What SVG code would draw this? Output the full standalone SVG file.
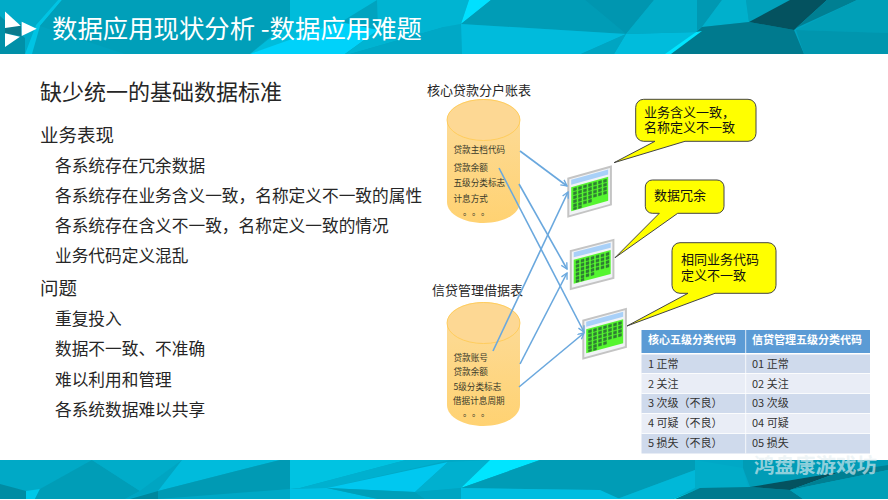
<svg xmlns="http://www.w3.org/2000/svg" width="888" height="500" viewBox="0 0 888 500">
<style>
text{font-family:"Noto Sans CJK SC","Liberation Sans",sans-serif;fill:#262626}
.h{font-size:18.5px}.s{font-size:16.7px}.l{font-size:13px}.c{font-size:8.6px;fill:#3a3a2a}
.b{font-size:13px;fill:#111}
.th{font-size:11px;font-weight:700;fill:#fff}.td{font-size:11px;fill:#333}
.conn{fill:none;stroke:#6aa8de;stroke-width:1.6;marker-end:url(#arr)}
.call{fill:#ffff00;stroke:#444;stroke-width:1}
</style>
<defs>
<linearGradient id="cy" x1="0" y1="0" x2="0" y2="1"><stop offset="0" stop-color="#fcdc9c"/><stop offset="1" stop-color="#ffd272"/></linearGradient>
<marker id="arr" viewBox="0 0 10 10" refX="9" refY="5" markerWidth="7.5" markerHeight="7.5" orient="auto" markerUnits="userSpaceOnUse"><path d="M1 0.8L9 5L1 9.2" fill="none" stroke="#6aa8de" stroke-width="1.8"/></marker>
<g id="cyl">
<path d="M0 21C0 9 16.500 0 36.500 0S73 9 73 21V103C73 115 56.500 124 36.500 124S0 115 0 103Z" fill="url(#cy)"/>
<ellipse cx="36.500" cy="21" rx="36.500" ry="20.500" fill="#fdd894" stroke="#ffc94f" stroke-width="0.8"/>
</g>
<g id="tbl">
<rect x="0.800" y="0.800" width="42.600" height="38" fill="#f1f3f6" stroke="#c4c4c4" stroke-width="2"/>
<rect x="3.700" y="2.800" width="37" height="5" fill="#a8d0f8"/>
<rect x="3.700" y="10.200" width="37" height="24" fill="#55f52f"/>
<path d="M6 12h3v2.600h-3zM11 12h3v2.600h-3zM16 12h3v2.600h-3zM21 12h3v2.600h-3zM26 12h3v2.600h-3zM31 12h3v2.600h-3zM36 12h3v2.600h-3zM6 16h3v2.600h-3zM11 16h3v2.600h-3zM16 16h3v2.600h-3zM21 16h3v2.600h-3zM26 16h3v2.600h-3zM31 16h3v2.600h-3zM36 16h3v2.600h-3zM6 20h3v2.600h-3zM11 20h3v2.600h-3zM16 20h3v2.600h-3zM21 20h3v2.600h-3zM26 20h3v2.600h-3zM31 20h3v2.600h-3zM36 20h3v2.600h-3zM6 24h3v2.600h-3zM11 24h3v2.600h-3zM16 24h3v2.600h-3zM21 24h3v2.600h-3zM26 24h3v2.600h-3zM31 24h3v2.600h-3zM36 24h3v2.600h-3zM6 28h3v2.600h-3zM11 28h3v2.600h-3zM16 28h3v2.600h-3zM21 28h3v2.600h-3zM6 31.500h3v2h-3zM11 31.500h3v2h-3z" fill="#2f7d35" stroke="#2f7d35" stroke-width="0.4"/>
</g>
</defs>
<rect width="888" height="500" fill="#fff"/>
<g id="header">
<rect width="888" height="54" fill="#00a3bf"/>
<polygon points="0,0 58,0 36,25 25,54 0,54" fill="#00abc8"/>
<polygon points="0,16 25,38 25,54 0,54" fill="#0090a8"/>
<polygon points="58,0 62,0 40,26 32,54 25,54 36,25" fill="#00c4e4"/>
<polygon points="62,0 290,0 290,18 250,54 130,54 125,54 40,26" fill="#009fb9"/>
<polygon points="290,0 377,0 333,27 250,54 290,22" fill="#00bcdb"/>
<polygon points="340,22 250,54 345,54 378,30" fill="#00d2fa"/>
<polygon points="377,0 444,0 444,27 350,54 345,54 378,30" fill="#00b4d2"/>
<polygon points="350,54 444,27 461,24 462,54" fill="#00a8c6"/>
<polygon points="444,0 469,0 461,24 444,27" fill="#00b4d2"/>
<polygon points="469,0 491,0 461,24" fill="#00e0ff"/>
<polygon points="491,0 585,0 626,34 461,24" fill="#009cb6"/>
<polygon points="585,0 654,0 626,34" fill="#0096b0"/>
<polygon points="461,24 626,34 581,54 462,54" fill="#00bbdc"/>
<polygon points="626,34 697,32 670,54 614,54" fill="#00bcdc"/>
<polygon points="581,54 626,34 614,54" fill="#00a5c2"/>
<polygon points="654,0 697,0 697,32 626,34" fill="#00acc8"/>
<polygon points="697,0 722,0 702,27 697,30" fill="#0098b2"/>
<polygon points="722,0 746,0 749,22 702,27" fill="#00b0cc"/>
<polygon points="746,0 790,0 749,22" fill="#00a0ba"/>
<polygon points="702,27 749,22 794,30 804,54 670,54" fill="#007a8e"/>
<polygon points="790,0 827,0 794,30 749,22" fill="#04525f"/>
<polygon points="827,0 857,0 796,28" fill="#007f92"/>
<polygon points="857,0 888,0 888,33 796,30" fill="#009fb7"/>
<polygon points="796,30 888,33 888,54 804,54" fill="#0096ae"/>
<polygon points="696,32 665,54 671,54 702,31" fill="#00e5ff"/>
<polygon points="5,28 20.700,24 21.700,36 5,33" fill="#0a7a8c"/>
<polygon points="5,11.500 20.700,25.700 5,28" fill="#fff"/>
<polygon points="21.700,21.700 36.700,28.800 21.700,36" fill="#fff"/>
<polygon points="5,33.300 20,36.700 5,47" fill="#fff"/>
<text x="52" y="37.500" style="fill:#fff;font-size:25.400px">数据应用现状分析 -数据应用难题</text>
</g>
<g id="footer">
<rect y="460" width="888" height="39" fill="#00a8c6"/>
<polygon points="0,460 92,460 40,489 26,491 0,484" fill="#00a9c6"/>
<polygon points="0,484 26,491 26,499 0,499" fill="#008ca3"/>
<polygon points="26,491 40,489 35,499 26,499" fill="#00c8e8"/>
<polygon points="40,489 92,460 140,491 125,499 35,499" fill="#009db7"/>
<polygon points="92,460 182,460 140,491" fill="#00acc9"/>
<polygon points="182,460 140,491 125,499 158,491" fill="#00a5c2"/>
<polygon points="182,460 280,460 158,491" fill="#00bbdc"/>
<polygon points="158,491 280,460 290,460 290,489 158,499" fill="#009ab4"/>
<polygon points="130,499 158,491 158,499" fill="#00879d"/>
<polygon points="290,460 406,460 300,488 290,489" fill="#00c3e2"/>
<polygon points="290,489 300,488 406,460 450,460 327,488" fill="#00b0cf"/>
<polygon points="290,489 327,488 378,499 290,499" fill="#00c0e4"/>
<polygon points="327,488 448,462 415,492" fill="#00c8f0"/>
<polygon points="327,488 415,492 425,499 378,499" fill="#009fb9"/>
<polygon points="415,492 448,462 490,460 461,488" fill="#00b0cf"/>
<polygon points="415,492 461,488 461,499 425,499" fill="#00a5c2"/>
<polygon points="490,460 540,460 461,488" fill="#00e5ff"/>
<polygon points="540,460 695,460 695,470 617,499 600,499 600,490 461,488" fill="#009cb6"/>
<polygon points="461,488 600,490 620,499 461,499" fill="#00bde0"/>
<polygon points="617,499 695,470 695,488 673,499" fill="#00b8d8"/>
<polygon points="695,460 743,468 748,487 700,488 695,488" fill="#00acc8"/>
<polygon points="743,460 888,460 888,465 840,472 750,487 743,468" fill="#009cb6"/>
<polygon points="700,488 750,487 790,490 803,499 673,499" fill="#007a8e"/>
<polygon points="750,487 840,472 790,490" fill="#04525f"/>
<polygon points="790,490 840,472 888,465 888,470" fill="#007f92"/>
<polygon points="790,490 888,470 888,499 803,499" fill="#009fb7"/>
<polygon points="673,499 700,488 675,499" fill="#00e5ff"/>
</g>
<g id="left-text">
<text x="40" y="100" style="font-size:22px">缺少统一的基础数据标准</text>
<text class="h" x="40" y="142">业务表现</text>
<text class="s" x="55" y="172">各系统存在冗余数据</text>
<text class="s" x="55" y="202">各系统存在业务含义一致，名称定义不一致的属性</text>
<text class="s" x="55" y="232">各系统存在含义不一致，名称定义一致的情况</text>
<text class="s" x="55" y="262">业务代码定义混乱</text>
<text class="h" x="40" y="295">问题</text>
<text class="s" x="55" y="325">重复投入</text>
<text class="s" x="55" y="355">数据不一致、不准确</text>
<text class="s" x="55" y="386">难以利用和管理</text>
<text class="s" x="55" y="416">各系统数据难以共享</text>
</g>
<g id="node-core">
<text class="l" x="427" y="95">核心贷款分户账表</text>
<use href="#cyl" x="447" y="99"/>
<text class="c" x="453.500" y="153">贷款主档代码</text>
<text class="c" x="453.500" y="170.500">贷款余额</text>
<text class="c" x="453.500" y="186">五级分类标志</text>
<text class="c" x="453.500" y="202">计息方式</text>
<text class="c" x="463 472 481" y="215">。。。</text>
</g>
<g id="node-credit">
<text class="l" x="432" y="295">信贷管理借据表</text>
<use href="#cyl" x="447" y="302"/>
<text class="c" x="453.500" y="361">贷款账号</text>
<text class="c" x="453.500" y="375">贷款余额</text>
<text class="c" x="453.500" y="390">5级分类标志</text>
<text class="c" x="453" y="404">借据计息周期</text>
<text class="c" x="463 472 481" y="416">。。。</text>
</g>
<g id="node-table-1"><use href="#tbl" transform="matrix(1 -0.28 0 1 567.500 178)"/></g>
<g id="node-table-2"><use href="#tbl" transform="matrix(1 -0.26 0 1 570 250.500)"/></g>
<g id="node-table-3"><use href="#tbl" transform="matrix(1 -0.27 0 1 582.500 320)"/></g>
<g id="connectors">
<path class="conn" d="M520 151L567 186"/>
<path class="conn" d="M499 168L584 332"/>
<path class="conn" d="M519 184L567 269"/>
<path class="conn" d="M493 351L568 192"/>
<path class="conn" d="M520 364L567 273"/>
<path class="conn" d="M519 387L584 333"/>
</g>
<g id="callout-1">
<path class="call" d="M643.700 99.300H748A8 8 0 0 1 756 107.300V133.300A8 8 0 0 1 748 141.300H685L614 162.700L655 141.300H643.700A8 8 0 0 1 635.700 133.300V107.300A8 8 0 0 1 643.700 99.300Z"/>
<text class="b"><tspan x="644" y="116.500">业务含义一致，</tspan><tspan x="644" y="132">名称定义不一致</tspan></text>
</g>
<g id="callout-2">
<path class="call" d="M652.300 180H717A7 7 0 0 1 724 187V206.300A7 7 0 0 1 717 213.300H677.700L615 257.700L659.300 213.300H652.300A7 7 0 0 1 645.300 206.300V187A7 7 0 0 1 652.300 180Z"/>
<text class="b" x="654" y="200">数据冗余</text>
</g>
<g id="callout-3">
<path class="call" d="M680 242.700H768A8 8 0 0 1 776 250.700V285.300A8 8 0 0 1 768 293.300H715L627 326L688 293.300H680A8 8 0 0 1 672 285.300V250.700A8 8 0 0 1 680 242.700Z"/>
<text class="b"><tspan x="681" y="264">相同业务代码</tspan><tspan x="681" y="280">定义不一致</tspan></text>
</g>
<g id="grade-table">
<rect x="641.500" y="330" width="228.500" height="23" fill="#5b9bd5"/>
<rect x="641.500" y="354.500" width="228.500" height="19" fill="#cfdaec"/>
<rect x="641.500" y="373.500" width="228.500" height="20" fill="#e9edf6"/>
<rect x="641.500" y="393.500" width="228.500" height="20" fill="#cfdaec"/>
<rect x="641.500" y="413.500" width="228.500" height="20" fill="#e9edf6"/>
<rect x="641.500" y="433.500" width="228.500" height="20" fill="#cfdaec"/>
<path d="M745.700 330V453.500M641.500 373.500H870M641.500 393.500H870M641.500 413.500H870M641.500 433.500H870" stroke="#fff" stroke-width="0.8" fill="none"/>
<text class="th" x="648" y="344">核心五级分类代码</text><text class="th" x="752" y="344">信贷管理五级分类代码</text>
<text class="td" x="648" y="367.500">1 正常</text><text class="td" x="752" y="367.500">01 正常</text>
<text class="td" x="648" y="387.500">2 关注</text><text class="td" x="752" y="387.500">02 关注</text>
<text class="td" x="648" y="407">3 次级（不良）</text><text class="td" x="752" y="407">03 次级</text>
<text class="td" x="648" y="427">4 可疑（不良）</text><text class="td" x="752" y="427">04 可疑</text>
<text class="td" x="648" y="447">5 损失（不良）</text><text class="td" x="752" y="447">05 损失</text>
</g>
<text x="754" y="473" style="font-size:20.500px;font-weight:700;fill:#e4eef2;fill-opacity:.65">鸿盘康游戏坊</text>
</svg>
